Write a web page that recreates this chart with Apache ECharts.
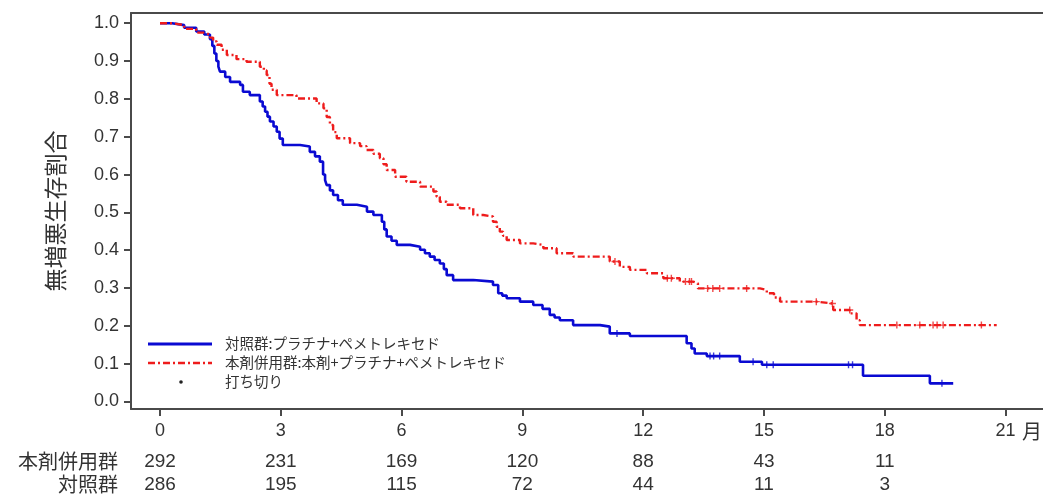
<!DOCTYPE html>
<html><head><meta charset="utf-8">
<script src="https://cdn.jsdelivr.net/npm/echarts@6/dist/echarts.min.js"></script>
<style>html,body{margin:0;padding:0;background:#fff}#c{width:1043px;height:495px}</style>
</head><body><div id="c"></div>
<script>
// ---- data ----
const monthTicks = [0, 3, 6, 9, 12, 15, 18, 21];
const riskTicks = [0, 3, 6, 9, 12, 15, 18];
const yTicks = [0, 0.1, 0.2, 0.3, 0.4, 0.5, 0.6, 0.7, 0.8, 0.9, 1.0];
const riskRowLabels = ['本剤併用群', '対照群'];
const riskTreat = [292, 231, 169, 120, 88, 43, 11];
const riskCtrl = [286, 195, 115, 72, 44, 11, 3];
const seriesNames = ['対照群:プラチナ+ペメトレキセド', '本剤併用群:本剤+プラチナ+ペメトレキセド', '打ち切り'];
const yAxisTitle = '無増悪生存割合';
const xUnit = '月';

// 本剤併用群 (red)
const treatTime = [0, 0.3, 0.6, 0.9, 1.1, 1.24, 1.32, 1.41, 1.53, 1.66, 1.9, 2.15, 2.48, 2.58, 2.65, 2.72, 2.77, 2.9, 3.39, 3.89, 4.06, 4.14, 4.22, 4.3, 4.39, 4.72, 4.97, 5.13, 5.3, 5.46, 5.55, 5.63, 5.84, 6.12, 6.46, 6.79, 6.87, 6.95, 7.12, 7.45, 7.78, 8.03, 8.27, 8.36, 8.44, 8.52, 8.61, 8.94, 9.27, 9.52, 9.85, 10.26, 11.17, 11.42, 11.67, 12.09, 12.5, 12.91, 13.24, 13.36, 14.9, 15.07, 15.25, 15.4, 16.3, 16.72, 17.13, 17.3, 17.38, 20.78];
const treatSurv = [1.0, 0.995, 0.985, 0.975, 0.97, 0.962, 0.952, 0.943, 0.93, 0.916, 0.905, 0.898, 0.885, 0.875, 0.863, 0.84, 0.824, 0.81, 0.801, 0.788, 0.775, 0.752, 0.731, 0.712, 0.696, 0.683, 0.675, 0.665, 0.655, 0.643, 0.627, 0.612, 0.594, 0.581, 0.568, 0.555, 0.541, 0.528, 0.52, 0.511, 0.493, 0.489, 0.475, 0.462, 0.449, 0.438, 0.427, 0.418, 0.414, 0.405, 0.392, 0.383, 0.37, 0.356, 0.348, 0.339, 0.326, 0.317, 0.312, 0.299, 0.295, 0.286, 0.275, 0.264, 0.259, 0.242, 0.233, 0.215, 0.202, 0.202];

// 対照群 (blue)
const ctrlTime = [0, 0.3, 0.6, 0.9, 1.1, 1.24, 1.3, 1.35, 1.4, 1.45, 1.49, 1.62, 1.74, 1.99, 2.06, 2.23, 2.48, 2.55, 2.61, 2.67, 2.73, 2.82, 2.9, 2.97, 3.05, 3.48, 3.72, 3.85, 3.97, 4.05, 4.1, 4.14, 4.22, 4.3, 4.42, 4.54, 4.89, 5.14, 5.3, 5.51, 5.57, 5.63, 5.75, 5.88, 6.21, 6.46, 6.58, 6.7, 6.82, 6.95, 7.05, 7.12, 7.28, 7.78, 8.27, 8.4, 8.5, 8.61, 8.94, 9.27, 9.5, 9.68, 9.8, 9.93, 10.26, 10.93, 11.17, 11.67, 13.08, 13.2, 13.28, 13.58, 14.4, 14.95, 17.46, 19.12, 19.7];
const ctrlSurv = [1.0, 0.995, 0.988, 0.978, 0.97, 0.958, 0.94, 0.92, 0.9, 0.885, 0.872, 0.858, 0.845, 0.837, 0.819, 0.81, 0.793, 0.78, 0.766, 0.753, 0.74, 0.727, 0.713, 0.695, 0.678, 0.674, 0.66, 0.648, 0.634, 0.6, 0.585, 0.572, 0.558, 0.546, 0.532, 0.52, 0.515, 0.502, 0.493, 0.475, 0.455, 0.436, 0.425, 0.414, 0.409, 0.401, 0.392, 0.383, 0.374, 0.365, 0.35, 0.334, 0.321, 0.317, 0.308, 0.286, 0.28, 0.273, 0.264, 0.255, 0.245, 0.229, 0.222, 0.215, 0.202, 0.198, 0.18, 0.173, 0.154, 0.14, 0.127, 0.12, 0.105, 0.097, 0.068, 0.048, 0.048];

// censoring marks
const treatCensorTime = [11.3, 12.6, 12.7, 13.05, 13.15, 13.2, 13.6, 13.73, 13.9, 14.57, 16.3, 16.7, 17.13, 18.3, 18.87, 19.2, 19.3, 19.45, 20.4];
const treatCensorSurv = [0.37, 0.326, 0.326, 0.317, 0.317, 0.317, 0.299, 0.299, 0.299, 0.299, 0.264, 0.259, 0.242, 0.202, 0.202, 0.202, 0.202, 0.202, 0.202];
const ctrlCensorTime = [11.35, 13.66, 13.75, 13.9, 14.73, 15.07, 15.23, 17.1, 17.2, 19.42];
const ctrlCensorSurv = [0.18, 0.12, 0.12, 0.12, 0.105, 0.097, 0.097, 0.097, 0.097, 0.048];

// ---- chart ----
const zip = (a, b) => a.map((v, i) => [v, b[i]]);
const BLUE = '#0a0ad2';
const RED = '#ee1c1c';
const AX = '#4a4a4a';
const TXT = '#333';
const NUMFONT = '"Liberation Sans", Arial, sans-serif';
const JPFONT = '"Noto Sans CJK JP", sans-serif';
const plus = 'path://M2,0H3V5H2ZM0,2H5V3H0Z';
const XMIN = -0.72, XMAX = 21.93;

const chart = echarts.init(document.getElementById('c'), null, {renderer: 'canvas'});
const riskAxis = (vals, offset) => ({
  type: 'value', min: XMIN, max: XMAX, position: 'bottom', offset: offset, gridIndex: 0,
  axisLine: {show: false}, axisTick: {show: false}, splitLine: {show: false},
  axisLabel: {customValues: riskTicks, margin: 13, fontSize: 19, color: TXT, fontFamily: NUMFONT,
    formatter: v => String(vals[riskTicks.indexOf(Math.round(v))])}
});
chart.setOption({
  animation: false,
  backgroundColor: '#fff',
  grid: {left: 131, top: 13, width: 912, height: 396, containLabel: false},
  xAxis: [
    {type: 'value', min: XMIN, max: XMAX, position: 'bottom',
      axisLine: {show: true, onZero: false, lineStyle: {color: AX, width: 2}},
      axisTick: {show: true, customValues: monthTicks, length: 7, lineStyle: {color: AX, width: 2}},
      axisLabel: {customValues: monthTicks, margin: 13, fontSize: 18, color: TXT, fontFamily: NUMFONT},
      splitLine: {show: false}},
    {type: 'value', min: XMIN, max: XMAX, position: 'top',
      axisLine: {show: true, onZero: false, lineStyle: {color: AX, width: 2}},
      axisTick: {show: false}, axisLabel: {show: false}, splitLine: {show: false}},
    riskAxis(riskTreat, 30),
    riskAxis(riskCtrl, 53)
  ],
  yAxis: {
    type: 'value', min: -0.0198, max: 1.027,
    name: yAxisTitle, nameLocation: 'middle', nameRotate: 90, nameGap: 64,
    nameTextStyle: {fontSize: 23, color: TXT, fontFamily: JPFONT},
    axisLine: {show: true, onZero: false, lineStyle: {color: AX, width: 2}},
    axisTick: {show: true, customValues: yTicks, length: 7, lineStyle: {color: AX, width: 2}},
    axisLabel: {customValues: yTicks, margin: 12, fontSize: 18, color: TXT, fontFamily: NUMFONT,
      formatter: v => v.toFixed(1)},
    splitLine: {show: false}
  },
  series: [
    {name: seriesNames[0], type: 'line', step: 'end', showSymbol: false, symbol: 'none',
      data: zip(ctrlTime, ctrlSurv), lineStyle: {color: BLUE, width: 2.6}, z: 2},
    {name: seriesNames[1], type: 'line', step: 'end', showSymbol: false, symbol: 'none',
      data: zip(treatTime, treatSurv), lineStyle: {color: RED, width: 2.4, type: [7, 3, 2, 3]}, z: 3},
    {name: seriesNames[2] + '-ctrl', type: 'scatter', symbol: plus, symbolSize: 7,
      data: zip(ctrlCensorTime, ctrlCensorSurv), itemStyle: {color: BLUE}, z: 4},
    {name: seriesNames[2] + '-treat', type: 'scatter', symbol: plus, symbolSize: 7,
      data: zip(treatCensorTime, treatCensorSurv), itemStyle: {color: RED}, z: 4}
  ],
  graphic: [
    {type: 'text', x: 118, y: 461, style: {text: riskRowLabels[0], align: 'right', verticalAlign: 'middle', font: '20px ' + JPFONT, fill: TXT}},
    {type: 'text', x: 118, y: 484, style: {text: riskRowLabels[1], align: 'right', verticalAlign: 'middle', font: '20px ' + JPFONT, fill: TXT}},
    {type: 'text', x: 1022, y: 431, style: {text: xUnit, align: 'left', verticalAlign: 'middle', font: '20px ' + JPFONT, fill: TXT}},
    {type: 'line', shape: {x1: 148, y1: 344, x2: 212, y2: 344}, style: {stroke: BLUE, lineWidth: 3}},
    {type: 'line', shape: {x1: 148, y1: 363, x2: 212, y2: 363}, style: {stroke: RED, lineWidth: 2.4, lineDash: [7, 3, 2, 3]}},
    {type: 'circle', shape: {cx: 181, cy: 382, r: 1.8}, style: {fill: '#222'}},
    {type: 'text', x: 225, y: 343, style: {text: seriesNames[0], align: 'left', verticalAlign: 'middle', font: '14.5px ' + JPFONT, fill: TXT}},
    {type: 'text', x: 225, y: 362, style: {text: seriesNames[1], align: 'left', verticalAlign: 'middle', font: '14.5px ' + JPFONT, fill: TXT}},
    {type: 'text', x: 225, y: 381, style: {text: seriesNames[2], align: 'left', verticalAlign: 'middle', font: '14.5px ' + JPFONT, fill: TXT}}
  ]
});
</script></body></html>
